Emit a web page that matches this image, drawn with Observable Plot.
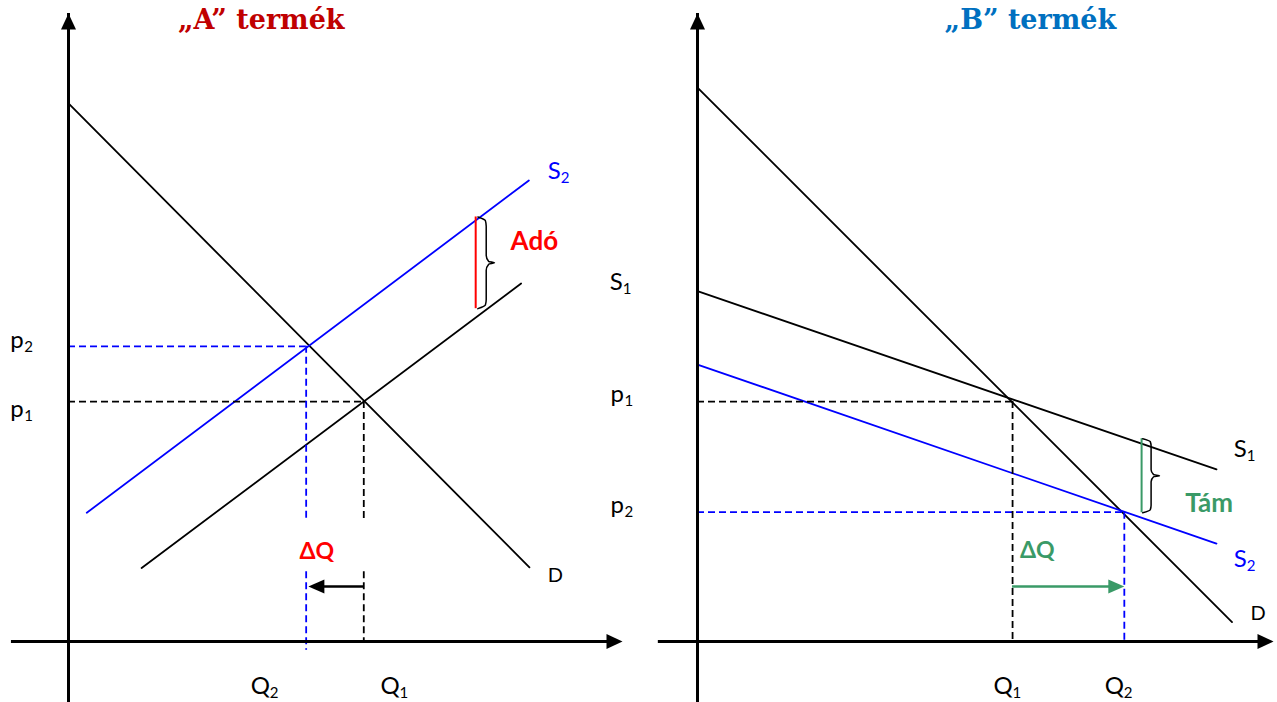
<!DOCTYPE html>
<html>
<head>
<meta charset="utf-8">
<script src="https://cdn.jsdelivr.net/npm/d3@7"></script>
<script src="https://cdn.jsdelivr.net/npm/@observablehq/plot@0.6"></script>
<style>
  html, body { margin: 0; padding: 0; background: #ffffff; }
  #wrap { position: relative; width: 1277px; height: 702px; overflow: hidden; }
  #wrap svg { position: absolute; left: 0; top: 0; }
</style>
</head>
<body>
<div id="wrap"></div>
<script>
// ---------- Panel A ("A" termék): quantity q and price p in units 0–100 ----------
const titleA = "„A” termék";
const demandA = [{q: 0, p: 85.7}, {q: 83.2, p: 11.8}];
const supplyA1 = [{q: 13.2, p: 11.7}, {q: 81.7, p: 57.0}];
const supplyA2 = [{q: 3.3, p: 20.5}, {q: 83.1, p: 73.4}];
const eqA1 = {q: 53.3, p: 38.2};          // (Q1, p1)
const eqA2 = {q: 42.9, p: 47.0};          // (Q2, p2)
const gapA = [11.1, 19.0];                // break in the Q dashed lines around ΔQ
const q2BelowAxisA = -1.4;
const arrowA = {p: 8.76, from: 53.3, to: 43.3};
const taxA = {q: 73.5, top: 67.6, bottom: 53.0};
const braceA = {q: 73.9, width: 3.0};
const labelsA = [
  {main: "p", sub: "2", q: -10.5, p: 46.8, color: "#000000"},
  {main: "p", sub: "1", q: -10.5, p: 35.7, color: "#000000"},
  {main: "Q", sub: "2", q: 32.9, p: -8.4, color: "#000000"},
  {main: "Q", sub: "1", q: 56.3, p: -8.4, color: "#000000"},
  {main: "S", sub: "2", q: 86.5, p: 73.7, color: "#0000FF"},
  {main: "S", sub: "1", q: 97.7, p: 55.9, color: "#000000"}
];
const dLabelA = {text: "D", q: 86.5, p: 9.4};
const deltaA = {text: "ΔQ", q: 44.8, p: 13.1};
const taxLabelA = {text: "Adó", q: 79.8, p: 62.3};
const axesA = {qMin: -10.3, pMin: -8.9, max: 100};

// ---------- Panel B ("B" termék) ----------
const titleB = "„B” termék";
const demandB = [{q: 0, p: 88.2}, {q: 92.8, p: 3.1}];
const supplyB1 = [{q: 0, p: 55.8}, {q: 90.1, p: 27.4}];
const supplyB2 = [{q: 0, p: 44.1}, {q: 90.1, p: 15.6}];
const eqB1 = {q: 54.7, p: 38.2};          // (Q1, p1)
const eqB2 = {q: 74.1, p: 20.6};          // (Q2, p2)
const arrowB = {p: 8.76, from: 54.7, to: 74.1};
const subsidyB = {q: 77.1, top: 32.3, bottom: 20.5};
const braceB = {q: 77.3, width: 2.9};
const labelsB = [
  {main: "p", sub: "1", q: -15.1, p: 38.1, color: "#000000"},
  {main: "p", sub: "2", q: -15.1, p: 20.5, color: "#000000"},
  {main: "Q", sub: "1", q: 51.4, p: -8.4, color: "#000000"},
  {main: "Q", sub: "2", q: 70.7, p: -8.4, color: "#000000"},
  {main: "S", sub: "1", q: 93.1, p: 29.3, color: "#000000"},
  {main: "S", sub: "2", q: 93.1, p: 11.8, color: "#0000FF"}
];
const dLabelB = {text: "D", q: 96.0, p: 3.5};
const deltaB = {text: "ΔQ", q: 59.0, p: 13.3};
const subsidyLabelB = {text: "Tám", q: 84.7, p: 20.7};
const axesB = {qMin: -6.8, pMin: -9.1, max: 100};

// ---------- styling ----------
const W = 1277, H = 702;
const FONT = "Lato, 'Open Sans', sans-serif";
const RED = "#FF0000", BLUE = "#0000FF", GREEN = "#3A9A67";
const DASH = "7,4";
const subDx = {p: 14, Q: 19, S: 13};
const braceShape = [[0,0],[0.45,0.04],[0.5,0.1],[0.5,0.42],[0.65,0.485],[1,0.5],[0.65,0.515],[0.5,0.58],[0.5,0.9],[0.45,0.96],[0,1]];

function bracePoints(b, span) {
  const h = span.top - span.bottom;
  return braceShape.map(([fx, fy]) => ({q: b.q + fx * b.width, p: span.top - fy * h}));
}

function labelMarks(labels) {
  return labels.flatMap(l => [
    Plot.text([l], {x: "q", y: "p", text: "main", fill: l.color, fontSize: 24, fontFamily: FONT,
      textAnchor: "start", lineAnchor: "bottom"}),
    Plot.text([l], {x: "q", y: "p", text: "sub", fill: l.color, fontSize: 15, fontFamily: FONT,
      textAnchor: "start", lineAnchor: "bottom", dx: subDx[l.main], dy: 4})
  ]);
}

function axisMarks(ax) {
  return [
    Plot.ruleX([0], {y1: ax.pMin, y2: ax.max, stroke: "black", strokeWidth: 3, insetTop: 12}),
    Plot.ruleY([0], {x1: ax.qMin, x2: ax.max, stroke: "black", strokeWidth: 3, insetRight: 12}),
    Plot.vector([{q: 0, p: ax.max}], {x: "q", y: "p", shape: "spike", anchor: "end", length: 16, r: 7.5,
      rotate: 0, fill: "black", fillOpacity: 1, stroke: "none"}),
    Plot.vector([{q: ax.max, p: 0}], {x: "q", y: "p", shape: "spike", anchor: "end", length: 16, r: 7.5,
      rotate: 90, fill: "black", fillOpacity: 1, stroke: "none"})
  ];
}

function panel(marks, ml, mr) {
  return Plot.plot({
    width: W, height: H,
    marginLeft: ml, marginRight: mr, marginTop: 13, marginBottom: 61,
    x: {domain: [0, 100], axis: null},
    y: {domain: [0, 100], axis: null},
    style: {background: "transparent", overflow: "visible", fontFamily: FONT},
    marks
  });
}

// ---------- Panel A ----------
const plotA = panel([
  Plot.line(demandA, {x: "q", y: "p", stroke: "black", strokeWidth: 1.8}),
  Plot.line(supplyA1, {x: "q", y: "p", stroke: "black", strokeWidth: 1.8}),
  Plot.line(supplyA2, {x: "q", y: "p", stroke: BLUE, strokeWidth: 1.8}),
  // price guides
  Plot.ruleY([eqA2], {y: "p", x1: 0, x2: "q", stroke: BLUE, strokeWidth: 1.8, strokeDasharray: DASH}),
  Plot.ruleY([eqA1], {y: "p", x1: 0, x2: "q", stroke: "black", strokeWidth: 1.8, strokeDasharray: DASH}),
  // quantity guides (broken around ΔQ)
  Plot.ruleX([eqA2], {x: "q", y1: "p", y2: gapA[1], stroke: BLUE, strokeWidth: 1.8, strokeDasharray: DASH}),
  Plot.ruleX([eqA2], {x: "q", y1: gapA[0], y2: q2BelowAxisA, stroke: BLUE, strokeWidth: 1.8, strokeDasharray: DASH}),
  Plot.ruleX([eqA1], {x: "q", y1: "p", y2: gapA[1], stroke: "black", strokeWidth: 1.8, strokeDasharray: DASH}),
  Plot.ruleX([eqA1], {x: "q", y1: gapA[0], y2: 0, stroke: "black", strokeWidth: 1.8, strokeDasharray: DASH}),
  // ΔQ arrow (pointing left, from Q1 to Q2)
  Plot.ruleY([arrowA], {y: "p", x1: "to", x2: "from", stroke: "black", strokeWidth: 2.5, insetLeft: 10}),
  Plot.vector([arrowA], {x: "to", y: "p", shape: "spike", anchor: "end", length: 16, r: 7,
    rotate: -90, fill: "black", fillOpacity: 1, stroke: "none"}),
  // tax wedge
  Plot.ruleX([taxA], {x: "q", y1: "bottom", y2: "top", stroke: RED, strokeWidth: 2}),
  Plot.line(bracePoints(braceA, taxA), {x: "q", y: "p", stroke: "black", strokeWidth: 1.5, curve: "monotone-y"}),
  ...axisMarks(axesA),
  ...labelMarks(labelsA),
  Plot.text([dLabelA], {x: "q", y: "p", text: "text", fontSize: 20, fontFamily: FONT, textAnchor: "start", lineAnchor: "bottom", fill: "black"}),
  Plot.text([deltaA], {x: "q", y: "p", text: "text", fontSize: 23, fontWeight: "bold", fontFamily: FONT, textAnchor: "middle", lineAnchor: "bottom", fill: RED}),
  Plot.text([taxLabelA], {x: "q", y: "p", text: "text", fontSize: 26, fontWeight: "bold", fontFamily: FONT, textAnchor: "start", lineAnchor: "bottom", fill: RED}),
  Plot.text([{text: titleA, q: 34.8, p: 97.5}], {x: "q", y: "p", text: "text", fontSize: 27, fontWeight: "bold",
    fontFamily: "'DejaVu Serif', serif", textAnchor: "middle", lineAnchor: "bottom", fill: "#C00000"})
], 68, W - 622);

// ---------- Panel B ----------
const plotB = panel([
  Plot.line(demandB, {x: "q", y: "p", stroke: "black", strokeWidth: 1.8}),
  Plot.line(supplyB1, {x: "q", y: "p", stroke: "black", strokeWidth: 1.8}),
  Plot.line(supplyB2, {x: "q", y: "p", stroke: BLUE, strokeWidth: 1.8}),
  Plot.ruleY([eqB1], {y: "p", x1: 0, x2: "q", stroke: "black", strokeWidth: 1.8, strokeDasharray: DASH}),
  Plot.ruleY([eqB2], {y: "p", x1: 0, x2: "q", stroke: BLUE, strokeWidth: 1.8, strokeDasharray: DASH}),
  Plot.ruleX([eqB1], {x: "q", y1: "p", y2: 0, stroke: "black", strokeWidth: 1.8, strokeDasharray: DASH}),
  Plot.ruleX([eqB2], {x: "q", y1: "p", y2: 0, stroke: BLUE, strokeWidth: 1.8, strokeDasharray: DASH}),
  // ΔQ arrow (pointing right, from Q1 to Q2)
  Plot.ruleY([arrowB], {y: "p", x1: "from", x2: "to", stroke: GREEN, strokeWidth: 2.5, insetRight: 10}),
  Plot.vector([arrowB], {x: "to", y: "p", shape: "spike", anchor: "end", length: 16, r: 7,
    rotate: 90, fill: GREEN, fillOpacity: 1, stroke: "none"}),
  // subsidy wedge
  Plot.ruleX([subsidyB], {x: "q", y1: "bottom", y2: "top", stroke: GREEN, strokeWidth: 2}),
  Plot.line(bracePoints(braceB, subsidyB), {x: "q", y: "p", stroke: "black", strokeWidth: 1.5, curve: "monotone-y"}),
  ...axisMarks(axesB),
  ...labelMarks(labelsB),
  Plot.text([dLabelB], {x: "q", y: "p", text: "text", fontSize: 20, fontFamily: FONT, textAnchor: "start", lineAnchor: "bottom", fill: "black"}),
  Plot.text([deltaB], {x: "q", y: "p", text: "text", fontSize: 23, fontWeight: "bold", fontFamily: FONT, textAnchor: "middle", lineAnchor: "bottom", fill: GREEN}),
  Plot.text([subsidyLabelB], {x: "q", y: "p", text: "text", fontSize: 26, fontWeight: "bold", fontFamily: FONT, textAnchor: "start", lineAnchor: "bottom", fill: GREEN}),
  Plot.text([{text: titleB, q: 57.8, p: 97.5}], {x: "q", y: "p", text: "text", fontSize: 27, fontWeight: "bold",
    fontFamily: "'DejaVu Serif', serif", textAnchor: "middle", lineAnchor: "bottom", fill: "#0070C0"})
], 697, W - 1273);

const wrap = document.getElementById("wrap");
wrap.appendChild(plotA);
wrap.appendChild(plotB);
</script>
</body>
</html>
